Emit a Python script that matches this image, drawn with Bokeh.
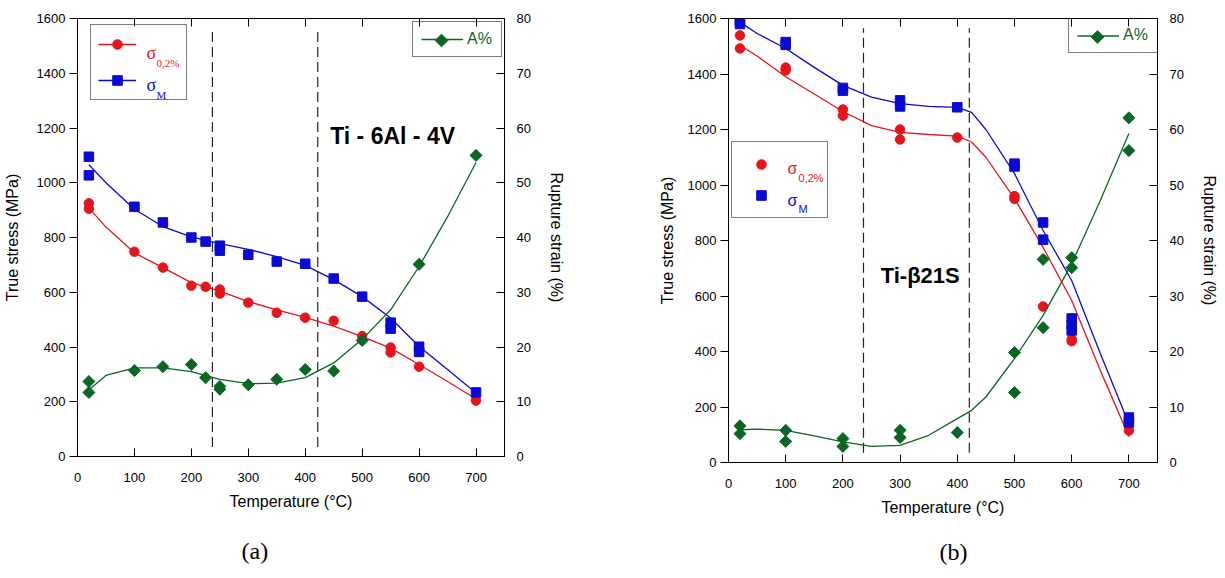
import numpy as np
from bokeh.plotting import figure
from bokeh.models import Range1d, LinearAxis, FixedTicker, Legend, LegendItem, Label, Title
from bokeh.layouts import row
from bokeh.embed import file_html
from bokeh.resources import INLINE

# ---------------- data: panel (a) Ti-6Al-4V ----------------
a_T_sy = [20, 20, 100, 150, 200, 225, 250, 250, 300, 350, 400, 450, 500, 550, 550, 600, 700]
a_sy = [925, 905, 748, 690, 624, 620, 610, 595, 562, 525, 507, 496, 440, 398, 380, 328, 204]
a_T_sm = [20, 20, 100, 150, 200, 225, 250, 250, 300, 350, 400, 450, 500, 550, 550, 600, 600, 700]
a_sm = [1095, 1027, 912, 855, 800, 785, 770, 752, 737, 712, 704, 650, 584, 489, 467, 401, 382, 234]
a_T_A = [20, 20, 100, 150, 200, 225, 250, 250, 300, 350, 400, 450, 500, 600, 700]
a_A = [13.7, 11.7, 15.7, 16.4, 16.8, 14.4, 12.8, 12.3, 13.1, 14.1, 15.9, 15.6, 21.2, 35.1, 55.0]
a_fit_T = [20, 50, 100, 150, 200, 250, 300, 350, 400, 450, 500, 550, 600, 650, 700]
a_fit_sy = [908, 838, 744, 690, 635, 604, 566, 536, 508, 476, 438, 396, 336, 274, 210]
a_fit_sm = [1066, 1000, 903, 840, 802, 778, 757, 730, 698, 646, 584, 506, 402, 318, 232]
a_fit_A = [12.2, 14.8, 16.2, 16.2, 15.5, 14.1, 13.3, 13.4, 14.4, 17.1, 21.4, 26.8, 34.7, 43.8, 53.7]
a_transitions = [237, 422]

# ---------------- data: panel (b) Ti-beta21S ----------------
b_T_sy = [20, 20, 100, 100, 200, 200, 300, 300, 400, 500, 500, 550, 600, 600, 700]
b_sy = [1539, 1492, 1423, 1413, 1272, 1250, 1200, 1164, 1171, 960, 950, 562, 444, 437, 115]
b_T_sm = [20, 20, 100, 100, 200, 200, 300, 300, 400, 500, 500, 550, 550, 600, 600, 600, 700, 700]
b_sm = [1590, 1580, 1515, 1505, 1350, 1340, 1305, 1283, 1280, 1077, 1067, 865, 803, 519, 497, 476, 162, 144]
b_T_A = [20, 20, 100, 100, 200, 200, 300, 300, 400, 500, 500, 550, 550, 600, 600, 700, 700]
b_A = [6.6, 5.2, 5.8, 3.8, 4.3, 2.9, 5.8, 4.5, 5.4, 19.8, 12.6, 36.6, 24.3, 36.9, 35.1, 62.1, 56.2]
b_fit_T = [20, 50, 100, 150, 200, 250, 300, 350, 400, 425, 450, 500, 550, 600, 650, 700]
b_fit_sy = [1503, 1465, 1390, 1328, 1265, 1214, 1190, 1182, 1176, 1155, 1100, 951, 775, 584, 332, 94]
b_fit_sm = [1587, 1546, 1492, 1424, 1359, 1317, 1293, 1283, 1280, 1262, 1200, 1041, 836, 656, 393, 140]
b_fit_A = [5.9, 6.0, 5.8, 4.8, 3.7, 2.9, 3.1, 4.9, 7.9, 9.4, 11.8, 18.7, 26.5, 35.8, 47.2, 59.3]
b_transitions = [236, 421]

x_ticks = [0, 100, 200, 300, 400, 500, 600, 700]
y_ticks = [0, 200, 400, 600, 800, 1000, 1200, 1400, 1600]
r_ticks = [0, 10, 20, 30, 40, 50, 60, 70, 80]

RED = "#e8141c"
BLUE = "#0a0ad4"
GREEN = "#0b6623"
SANS = "Liberation Sans"
SERIF = "Liberation Serif"
DASH_Y = (35, 1565)
X_MAX, Y_MAX, R_MAX = 750, 1600, 80


def style_axis(ax, tick_in, tick_out, standoff, font_size="13px"):
    ax.major_tick_in = tick_in
    ax.major_tick_out = tick_out
    ax.minor_tick_line_color = None
    ax.major_label_standoff = standoff
    ax.major_label_text_font = SANS
    ax.major_label_text_font_size = font_size
    ax.major_label_text_color = "black"
    ax.axis_line_color = "black"
    ax.major_tick_line_color = "black"
    ax.axis_label_text_font = SANS
    ax.axis_label_text_font_size = "16px"
    ax.axis_label_text_font_style = "normal"
    ax.axis_label_text_color = "black"


def build(cfg):
    p = figure(frame_width=cfg["fw"], frame_height=cfg["fh"],
               min_border_left=cfg["bl"], min_border_right=cfg["br"],
               min_border_top=cfg["bt"], min_border_bottom=cfg["bb"],
               x_range=Range1d(0, X_MAX), y_range=Range1d(0, Y_MAX),
               output_backend="svg", toolbar_location=None,
               background_fill_color="white", border_fill_color="white")
    p.extra_y_ranges = {"strain": Range1d(0, R_MAX)}
    p.xgrid.visible = False
    p.ygrid.visible = False
    p.outline_line_color = "black"

    xa = p.xaxis[0]
    xa.ticker = FixedTicker(ticks=x_ticks)
    xa.axis_label = "Temperature (°C)"
    style_axis(xa, 8, 0, 16)
    xa.axis_label_standoff = 8

    ya = p.yaxis[0]
    ya.ticker = FixedTicker(ticks=y_ticks)
    ya.axis_label = "True stress (MPa)"
    style_axis(ya, 0, 8, 4)
    ya.axis_label_standoff = cfg["ylab_standoff"]

    top = LinearAxis(ticker=FixedTicker(ticks=x_ticks))
    style_axis(top, 8, 0, 0)
    top.major_label_text_color = None
    p.add_layout(top, "above")

    ra = LinearAxis(y_range_name="strain", ticker=FixedTicker(ticks=r_ticks),
                    axis_label="Rupture strain (%)")
    style_axis(ra, 8, 0, 12)
    ra.axis_label_standoff = 14
    p.add_layout(ra, "right")

    p.segment(x0=cfg["trans"], y0=[DASH_Y[0]] * 2, x1=cfg["trans"], y1=[DASH_Y[1]] * 2,
              line_color="#222222", line_width=1.2, line_dash="10 5")

    r_sy_l = p.line(cfg["fit_T"], cfg["fit_sy"], line_color=RED, line_width=1.3)
    r_sy_p = p.scatter(cfg["T_sy"], cfg["sy"], marker="circle", size=9.5, color=RED)
    r_sm_l = p.line(cfg["fit_T"], cfg["fit_sm"], line_color=BLUE, line_width=1.3)
    r_sm_p = p.scatter(cfg["T_sm"], cfg["sm"], marker="square", size=9.5, color=BLUE)
    r_A_l = p.line(cfg["fit_T"], cfg["fit_A"], line_color=GREEN, line_width=1.3,
                   y_range_name="strain")
    p.scatter(cfg["T_A"], cfg["A"], marker="square", angle=np.pi / 4, size=8.5,
              color=GREEN, y_range_name="strain")

    if cfg["legend_lines"]:
        sig_items = [LegendItem(label=" ", renderers=[r_sy_l, r_sy_p]),
                     LegendItem(label=" ", renderers=[r_sm_l, r_sm_p])]
    else:
        sig_items = [LegendItem(label=" ", renderers=[r_sy_p]),
                     LegendItem(label=" ", renderers=[r_sm_p])]
    lg = cfg["leg1"]
    leg1 = Legend(items=sig_items, location=lg["loc"], padding=lg["pad"], spacing=lg["sp"],
                  glyph_width=lg["gw"], glyph_height=lg["gh"], label_height=lg["gh"],
                  label_standoff=lg["ls"], label_width=lg["lw"],
                  border_line_color="black", border_line_width=1,
                  background_fill_alpha=0.0, label_text_color=None)
    p.add_layout(leg1, "center")

    lg = cfg["leg2"]
    leg2 = Legend(items=[LegendItem(label="A%", renderers=[r_A_l])],
                  location=lg["loc"], padding=lg["pad"], spacing=0,
                  glyph_width=lg["gw"], glyph_height=lg["gh"], label_height=lg["gh"],
                  label_standoff=lg["ls"], label_width=lg["lw"],
                  border_line_color="black", border_line_width=1,
                  background_fill_alpha=0.0,
                  label_text_font=SANS, label_text_font_size="16px",
                  label_text_color=GREEN)
    p.add_layout(leg2, "center")
    # diamond key of the A% legend (legend keys cannot be rotated), centred on its glyph area
    kx = (lg["loc"][0] + lg["pad"] + lg["gw"] / 2) * X_MAX / cfg["fw"]
    ky = (lg["loc"][1] + lg["pad"] + lg["gh"] / 2) * R_MAX / cfg["fh"]
    p.scatter([kx], [ky], marker="square", angle=np.pi / 4, size=9, color=GREEN,
              y_range_name="strain")

    conv = cfg["px2data"]
    for (txt, px, py, font, size, color, style) in cfg["texts"]:
        x, y = conv(px, py)
        p.add_layout(Label(x=x, y=y, text=txt, text_font=font, text_font_size=size,
                           text_color=color, text_font_style=style,
                           text_baseline="alphabetic", text_align="left"))

    cap = Title(text=cfg["caption"], align="left", offset=cfg["cap_off"],
                standoff=cfg["cap_standoff"], text_font=SERIF, text_font_size="24px",
                text_font_style="normal", text_color="black")
    p.add_layout(cap, "below")
    return p


def px2a(px, py):
    return ((px - 78) / 0.570, (457 - py) / 0.27375)


def px2b(px, py):
    return ((px - 729) / 0.5714, (462 - py) / 0.2775)


cfg_a = dict(fw=427, fh=438, bl=70, br=115, bt=18, bb=106, ylab_standoff=13,
             trans=a_transitions, T_sy=a_T_sy, sy=a_sy, T_sm=a_T_sm, sm=a_sm,
             T_A=a_T_A, A=a_A, fit_T=a_fit_T, fit_sy=a_fit_sy, fit_sm=a_fit_sm, fit_A=a_fit_A,
             legend_lines=True,
             leg1=dict(loc=(13, 356), pad=7, sp=12, gw=38, gh=24, ls=11, lw=32),
             leg2=dict(loc=(335, 399), pad=8, gw=42, gh=18, ls=4, lw=26),
             px2data=px2a,
             texts=[("σ", 147, 53, SERIF, "18px", RED, "normal"),
                    ("0,2%", 157, 63, SERIF, "11px", RED, "normal"),
                    ("σ", 147, 85, SERIF, "18px", BLUE, "normal"),
                    ("M", 157, 95, SERIF, "11px", BLUE, "normal"),
                    ("Ti - 6Al - 4V", 331, 136, SANS, "23px", "black", "bold")],
             caption="(a)", cap_off=164, cap_standoff=46)

cfg_b = dict(fw=429, fh=444, bl=109, br=59, bt=17, bb=101, ylab_standoff=9,
             trans=b_transitions, T_sy=b_T_sy, sy=b_sy, T_sm=b_T_sm, sm=b_sm,
             T_A=b_T_A, A=b_A, fit_T=b_fit_T, fit_sy=b_fit_sy, fit_sm=b_fit_sm, fit_A=b_fit_A,
             legend_lines=False,
             leg1=dict(loc=(3, 244), pad=10, sp=7, gw=38, gh=24, ls=8, lw=29),
             leg2=dict(loc=(340, 409), pad=8, gw=42, gh=17, ls=4, lw=26),
             px2data=px2b,
             texts=[("σ", 788, 168, SANS, "16px", RED, "normal"),
                    ("0,2%", 799, 177, SANS, "11px", RED, "normal"),
                    ("σ", 788, 200, SANS, "16px", BLUE, "normal"),
                    ("M", 799, 208, SANS, "11px", BLUE, "normal"),
                    ("Ti-β21S", 881, 275, SANS, "22px", "black", "bold")],
             caption="(b)", cap_off=211, cap_standoff=36)

pa = build(cfg_a)
pb = build(cfg_b)
layout = row(pa, pb)
open("out.html", "w").write(file_html(layout, INLINE))
